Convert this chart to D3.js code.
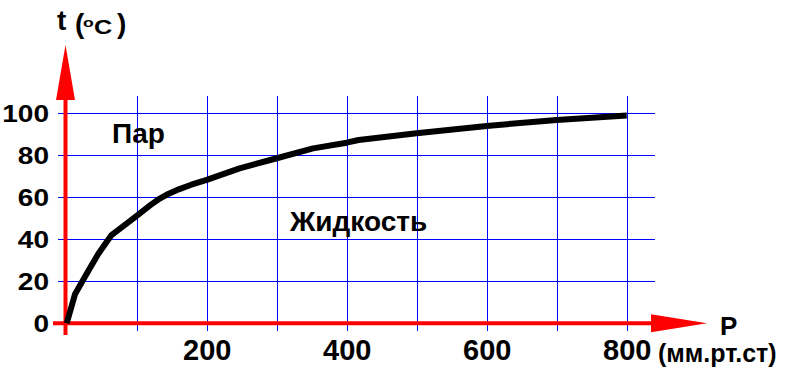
<!DOCTYPE html>
<html><head><meta charset="utf-8">
<script src="https://cdn.jsdelivr.net/npm/d3@7"></script>
<style>body{margin:0;background:#fff}svg{display:block}text{font-family:"Liberation Sans",Arial,sans-serif}</style>
</head><body>
<script>
const pressure = [0, 12, 31, 45, 64, 100, 120, 133, 145, 160, 178, 200, 247, 300, 352, 400, 417, 500, 600, 700, 800];
const temperature = [0, 14, 25, 33, 42, 51.2, 56.4, 59.4, 61.6, 63.8, 66, 68.3, 73.8, 78.6, 83.3, 86, 87.3, 90.5, 94, 96.8, 99];
const xTicks = [200, 400, 600, 800];
const xGrid = [100, 200, 300, 400, 500, 600, 700, 800];
const yTicks = [0, 20, 40, 60, 80, 100];
const regionLabels = ["Пар", "Жидкость"];

const W = 800, H = 391;
const svg = d3.select("body").append("svg").attr("width", W).attr("height", H);
const x = d3.scaleLinear().domain([0, 800]).range([66.7, 626.7]);
const y = d3.scaleLinear().domain([0, 100]).range([323.3, 113.3]);

// grid
const blue = "#0000ff";
svg.append("g").attr("shape-rendering", "crispEdges").selectAll("line").data(yTicks).join("line")
  .attr("x1", 58).attr("x2", 655)
  .attr("y1", d => Math.round(y(d)) + 0.5).attr("y2", d => Math.round(y(d)) + 0.5)
  .attr("stroke", blue).attr("stroke-width", 1);
svg.append("g").attr("shape-rendering", "crispEdges").selectAll("line").data(xGrid).join("line")
  .attr("y1", 96).attr("y2", 331)
  .attr("x1", d => Math.round(x(d)) + 0.5).attr("x2", d => Math.round(x(d)) + 0.5)
  .attr("stroke", blue).attr("stroke-width", 1);

// axes (red with arrows)
const red = "#ff0000";
svg.append("line").attr("x1", 53).attr("x2", 655).attr("y1", y(0)).attr("y2", y(0))
  .attr("stroke", red).attr("stroke-width", 4);
svg.append("path").attr("d", `M651,${y(0)-9}L707,${y(0)}L651,${y(0)+9}Z`).attr("fill", red);
svg.append("line").attr("x1", 65.5).attr("x2", 65.5).attr("y1", 335).attr("y2", 96)
  .attr("stroke", red).attr("stroke-width", 4);
svg.append("path").attr("d", `M56,100L65.5,45L75,100Z`).attr("fill", red);

// curve
const pts = pressure.map((p, i) => [p, temperature[i]]);
svg.append("path").datum(pts)
  .attr("d", d3.line().x(d => x(d[0])).y(d => y(d[1])))
  .attr("fill", "none").attr("stroke", "#000").attr("stroke-width", 6)
  .attr("stroke-linejoin", "round").attr("stroke-linecap", "butt");

// y axis labels
const yAxis = d3.axisLeft(y).tickValues(yTicks).tickSize(0).tickFormat(d3.format("d"));
const gy = svg.append("g").attr("transform", "translate(49,0)").call(yAxis);
gy.select(".domain").remove();
gy.selectAll("text").attr("x", 0).attr("dy", "0.36em")
  .attr("transform", "scale(1.22,1)")
  .style("font-size", "23px").style("font-weight", "bold").attr("fill", "#000")
  .style("font-family", "'Liberation Sans',Arial,sans-serif");

// x axis labels
const xAxis = d3.axisBottom(x).tickValues(xTicks).tickSize(0).tickFormat(d3.format("d"));
const gx = svg.append("g").attr("transform", "translate(0,339)").call(xAxis);
gx.select(".domain").remove();
gx.selectAll("text").attr("y", 0).attr("dy", "0.71em")
  .style("font-size", "29px").style("font-weight", "bold").attr("fill", "#000")
  .style("font-family", "'Liberation Sans',Arial,sans-serif");

// region labels
svg.append("text").attr("x", 112).attr("y", 143).text(regionLabels[0])
  .style("font-size", "28px").style("font-weight", "bold");
svg.append("text").attr("x", 290).attr("y", 231).text(regionLabels[1])
  .style("font-size", "28px").style("font-weight", "bold");

// axis title (t, °C)
svg.append("text").attr("x", 57).attr("y", 30).style("font-size", "28px").style("font-weight", "bold").text("t");
svg.append("text").attr("x", 75).attr("y", 33).style("font-size", "28px").style("font-weight", "bold").text("(");
svg.append("text").attr("transform", "translate(83,26.5) scale(1.35,1)").style("font-size", "13px").style("font-weight", "bold").text("o");
svg.append("text").attr("transform", "translate(94,33.5) scale(1.2,1)").style("font-size", "21px").style("font-weight", "bold").text("C");
svg.append("text").attr("x", 117).attr("y", 33).style("font-size", "28px").style("font-weight", "bold").text(")");

svg.append("text").attr("x", 720).attr("y", 335).text("P")
  .style("font-size", "26px").style("font-weight", "bold");
svg.append("text").attr("x", 658).attr("y", 362).text("(мм.рт.ст)")
  .style("font-size", "25px").style("font-weight", "bold");
</script>
</body></html>
